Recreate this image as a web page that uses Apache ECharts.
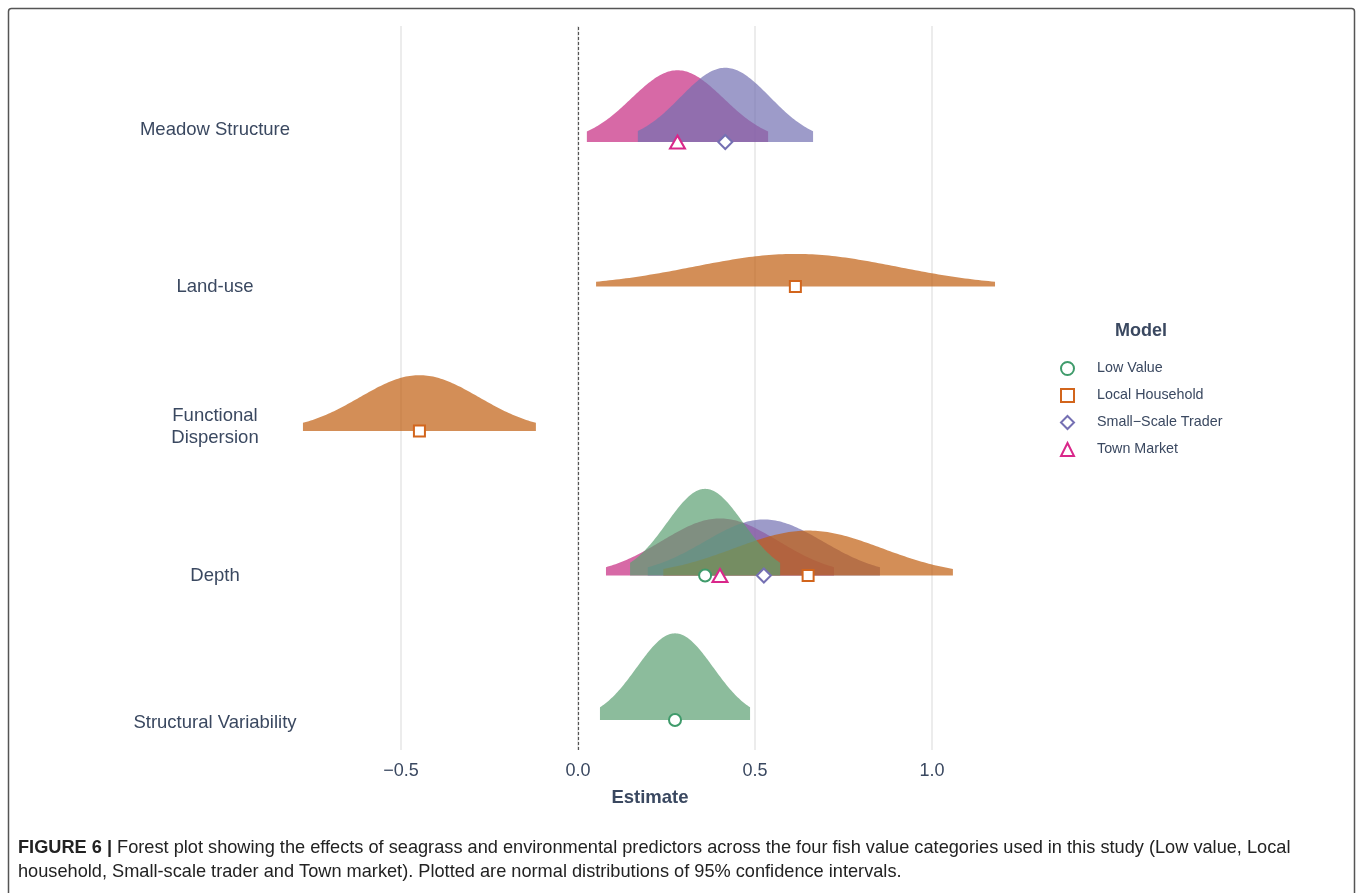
<!DOCTYPE html>
<html>
<head>
<meta charset="utf-8">
<script src="https://cdn.jsdelivr.net/npm/echarts@6/dist/echarts.min.js"></script>
<style>
html,body{margin:0;padding:0;background:#fff;}
#chart{width:1358px;height:893px;}
</style>
</head>
<body>
<div id="chart"></div>
<script>
// ---- Data ----
// Predictor rows, bottom to top
const categories = ['Structural Variability', 'Depth', 'Functional\nDispersion', 'Land-use', 'Meadow Structure'];
const models = ['Low Value', 'Local Household', 'Small\u2212Scale Trader', 'Town Market'];

// Per model: predictor, estimate, lower 95% CI, upper 95% CI
const lowValuePred = ['Structural Variability', 'Depth'];
const lowValueEst  = [0.274, 0.359];
const lowValueLo   = [0.062, 0.147];
const lowValueHi   = [0.486, 0.571];

const localHouseholdPred = ['Land-use', 'Functional\nDispersion', 'Depth'];
const localHouseholdEst  = [0.614, -0.448, 0.650];
const localHouseholdLo   = [0.051, -0.777, 0.241];
const localHouseholdHi   = [1.178, -0.119, 1.059];

const smallScalePred = ['Meadow Structure', 'Depth'];
const smallScaleEst  = [0.416, 0.525];
const smallScaleLo   = [0.169, 0.197];
const smallScaleHi   = [0.664, 0.853];

const townMarketPred = ['Meadow Structure', 'Depth'];
const townMarketEst  = [0.281, 0.401];
const townMarketLo   = [0.025, 0.079];
const townMarketHi   = [0.537, 0.723];

const xTickValues = [-0.5, 0, 0.5, 1.0];

// ---- Styling ----
const fillColors = {
  'Low Value': 'rgba(91,159,114,0.7)',
  'Local Household': 'rgba(192,94,16,0.7)',
  'Small\u2212Scale Trader': 'rgba(115,112,178,0.7)',
  'Town Market': 'rgba(198,42,128,0.7)'
};
const lineColors = {
  'Low Value': '#3f9b6b',
  'Local Household': '#d2651c',
  'Small\u2212Scale Trader': '#7570b3',
  'Town Market': '#d9278a'
};
const symbols = {
  'Low Value': ['circle', 12],
  'Local Household': ['rect', 11],
  'Small\u2212Scale Trader': ['diamond', 14],
  'Town Market': ['triangle', [15, 13]]
};
const legendIcons = {
  'Low Value': 'circle',
  'Local Household': 'rect',
  'Small\u2212Scale Trader': 'diamond',
  'Town Market': 'triangle'
};
const textColor = '#3a4860';
const DENS_SCALE = 0.1626; // row units per unit of density

function rows(pred, est, lo, hi) {
  return pred.map((p, i) => [est[i], lo[i], hi[i], categories.indexOf(p) + 1]);
}
const modelData = {
  'Low Value': rows(lowValuePred, lowValueEst, lowValueLo, lowValueHi),
  'Local Household': rows(localHouseholdPred, localHouseholdEst, localHouseholdLo, localHouseholdHi),
  'Small\u2212Scale Trader': rows(smallScalePred, smallScaleEst, smallScaleLo, smallScaleHi),
  'Town Market': rows(townMarketPred, townMarketEst, townMarketLo, townMarketHi)
};

function makeRidge(name) {
  return {
    name: name,
    type: 'custom',
    data: modelData[name],
    encode: { x: [0, 1, 2], y: 3 },
    silent: true,
    renderItem: function (params, api) {
      const est = api.value(0), lo = api.value(1), hi = api.value(2), row = api.value(3);
      const sd = (hi - lo) / 3.92;
      const N = 120;
      const pts = [api.coord([lo, row])];
      for (let i = 0; i <= N; i++) {
        const x = lo + (hi - lo) * i / N;
        const z = (x - est) / sd;
        const d = Math.exp(-0.5 * z * z) / (sd * Math.sqrt(2 * Math.PI));
        pts.push(api.coord([x, row + d * DENS_SCALE]));
      }
      pts.push(api.coord([hi, row]));
      return { type: 'polygon', shape: { points: pts }, style: { fill: fillColors[name] } };
    }
  };
}
function makePoints(name) {
  return {
    name: name,
    type: 'scatter',
    data: modelData[name].map(r => [r[0], r[3]]),
    symbol: symbols[name][0],
    symbolSize: symbols[name][1],
    itemStyle: { color: '#ffffff', borderColor: lineColors[name], borderWidth: 2, opacity: 1 },
    z: 5,
    silent: true
  };
}

// draw order bottom -> top: Town Market, Small-Scale, Local Household, Low Value
const drawOrder = ['Town Market', 'Small\u2212Scale Trader', 'Local Household', 'Low Value'];
const series = drawOrder.map(makeRidge);
series.push({
  type: 'line', data: [], silent: true,
  markLine: {
    symbol: 'none', silent: true, label: { show: false },
    lineStyle: { color: '#555', type: [3, 2], width: 1.2 },
    data: [{ xAxis: 0 }]
  }
});
models.forEach(m => series.push(makePoints(m)));

const labelShift = {
  'Meadow Structure': [0, 0, 24, 0],
  'Land-use': [0, 0, 0, 0],
  'Functional\nDispersion': [0, 0, 9, 0],
  'Depth': [0, 0, 0, 0],
  'Structural Variability': [6, 0, 0, 0]
};
const rich = {};
categories.forEach((c, i) => {
  rich['c' + i] = { fontSize: 18.5, color: textColor, align: 'center', lineHeight: 22, padding: labelShift[c], fontFamily: 'Liberation Sans, Arial, sans-serif' };
});

const chart = echarts.init(document.getElementById('chart'), null, { renderer: 'canvas' });
chart.setOption({
  backgroundColor: '#ffffff',
  animation: false,
  textStyle: { fontFamily: 'Liberation Sans, Arial, sans-serif' },
  title: {
    text: 'Model', left: 1110, top: 317,
    textStyle: { fontSize: 18, fontWeight: 'bold', color: textColor }
  },
  legend: {
    orient: 'vertical', left: 1055, top: 356,
    itemWidth: 13, itemHeight: 13, itemGap: 12,
    selectedMode: false,
    textStyle: { fontSize: 14.3, color: textColor, padding: [0, 0, 0, 18] },
    data: models.map(m => ({
      name: m, icon: legendIcons[m],
      itemStyle: { color: '#ffffff', borderColor: lineColors[m], borderWidth: 2 }
    }))
  },
  grid: { left: 290, right: 348, top: 26, bottom: 143, containLabel: false },
  xAxis: {
    type: 'value', min: -0.8136, max: 1.2203,
    name: 'Estimate', nameLocation: 'middle', nameGap: 38,
    nameTextStyle: { fontSize: 18.5, fontWeight: 'bold', color: textColor },
    axisLine: { show: false },
    axisTick: { show: false, customValues: xTickValues },
    axisLabel: {
      customValues: xTickValues, margin: 12, fontSize: 18, color: textColor,
      formatter: v => (v < 0 ? '\u2212' + Math.abs(v).toFixed(1) : v.toFixed(1))
    },
    splitLine: { show: true, lineStyle: { color: '#e6e6e6', width: 1.5 } }
  },
  yAxis: {
    type: 'value', min: 0.7924, max: 5.8028,
    axisLine: { show: false },
    axisTick: { show: false },
    splitLine: { show: false },
    axisLabel: {
      customValues: [1, 2, 3, 4, 5], margin: 75, align: 'center',
      formatter: v => { const i = Math.round(v) - 1; return '{c' + i + '|' + categories[i] + '}'; },
      rich: rich
    }
  },
  graphic: [
    {
      type: 'rect', silent: true,
      shape: { x: 8.5, y: 8.5, width: 1346, height: 950, r: 3 },
      style: { fill: 'none', stroke: '#555', lineWidth: 1.5 }
    },
    {
      type: 'text', left: 18, top: 836, silent: true,
      style: {
        text: '{b|FIGURE 6 |} Forest plot showing the effects of seagrass and environmental predictors across the four fish value categories used in this study (Low value, Local\nhousehold, Small-scale trader and Town market). Plotted are normal distributions of 95% confidence intervals.',
        fill: '#222', fontSize: 18.2, lineHeight: 24, fontFamily: 'Liberation Sans, Arial, sans-serif',
        rich: { b: { fontWeight: 'bold', fontSize: 18.2, fill: '#222', fontFamily: 'Liberation Sans, Arial, sans-serif' } }
      }
    }
  ],
  series: series
});
</script>
</body>
</html>
